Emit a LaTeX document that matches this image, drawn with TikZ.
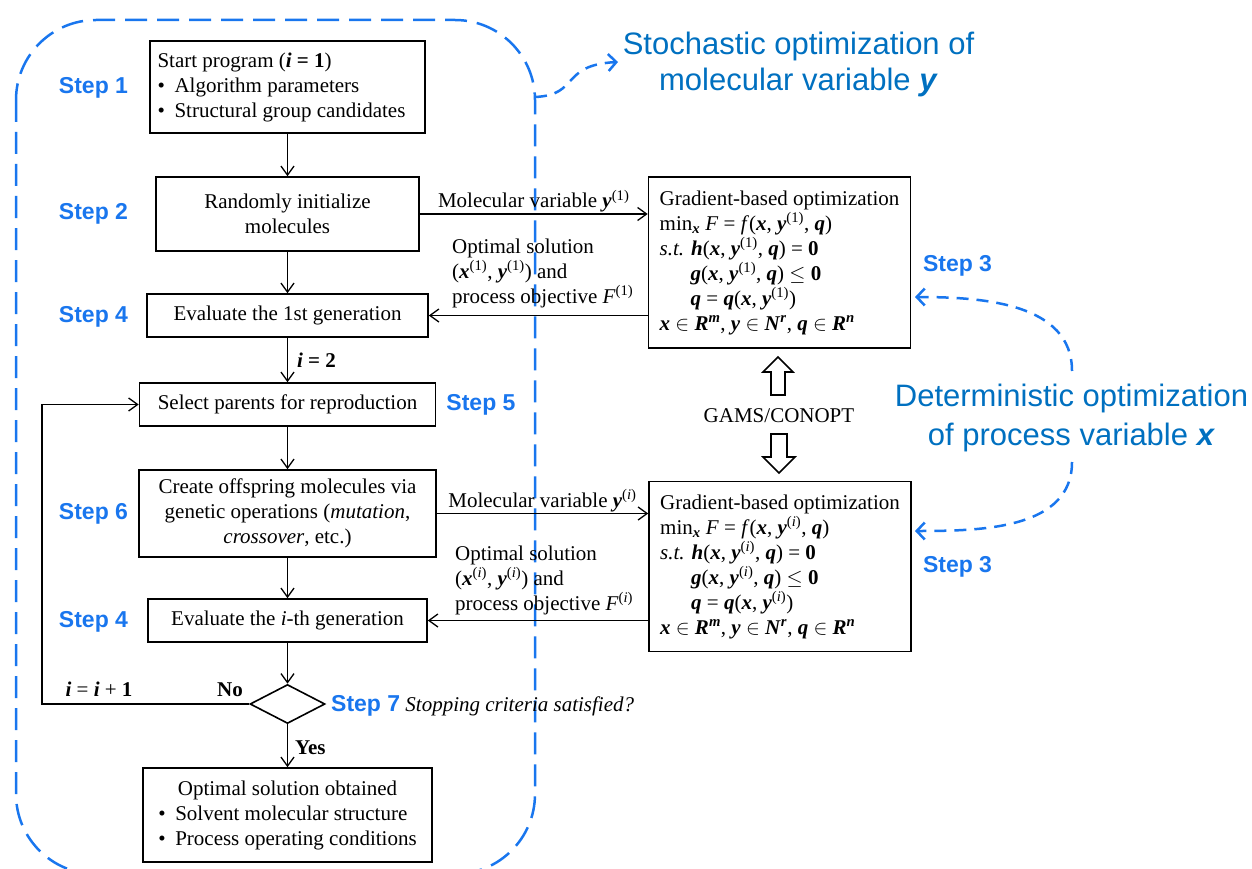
\documentclass[tikz,border=0pt]{standalone}
\usepackage{fontspec}
\setmainfont{Liberation Serif}
\setsansfont{Liberation Sans}
\usetikzlibrary{arrows.meta,shapes.geometric}
\definecolor{stepblue}{RGB}{25,118,238}
\definecolor{textblue}{RGB}{0,112,192}
\newcommand\bfit[1]{\textbf{\textit{#1}}}
\newcommand\mvx{\bfit{x}}
\newcommand\mvy{\bfit{y}}
\newcommand\mvq{\bfit{q}}
\newcommand\mvh{\bfit{h}}
\newcommand\mvg{\bfit{g}}
\newcommand\supone{\textsuperscript{(1)}}
\newcommand\supi{\textsuperscript{(\textit{i})}}
\newcommand\mainfs{\fontsize{21}{25}\selectfont}
\newcommand\stepfs{\fontsize{23}{27}\selectfont\sffamily\bfseries}
\newcommand\bul{\makebox[17pt][l]{•}}
\begin{document}
\begin{tikzpicture}[x=1pt,y=-1pt,
  box/.style={draw, line width=1.6pt, font=\mainfs, inner sep=0pt, align=center},
  arr/.style={line width=1.3pt, -{Straight Barb[length=9pt,width=13pt]}},
  steplabel/.style={font=\stepfs, text=stepblue, inner sep=0pt},
  lbl/.style={font=\mainfs, inner sep=1pt},
  bluearr/.style={draw=stepblue, line width=2.5pt, dash pattern=on 12pt off 8pt, -{Straight Barb[length=8pt,width=17pt]}},
  bigblue/.style={font=\fontsize{31}{37}\selectfont\sffamily, text=textblue, align=center, inner sep=0pt}
]
\useasboundingbox (0,0) rectangle (1252,869);

% dashed frame
\draw[stepblue, line width=2.5pt, dash pattern=on 22pt off 10pt, rounded corners=80pt] (16,20) rectangle (535,874);

% left column boxes
\node[box, minimum width=275pt, minimum height=92pt, align=left] (b1) at (287.5,87)
  {Start program (\bfit{i} \textbf{= 1})\\\bul Algorithm parameters\\\bul Structural group candidates\rule{12pt}{0pt}};
\node[box, minimum width=263pt, minimum height=74pt] (b2) at (287.5,214) {Randomly initialize\\molecules};
\node[box, minimum width=281pt, minimum height=43pt] (b4) at (287.5,315.5) {Evaluate the 1st generation};
\node[box, minimum width=296pt, minimum height=43pt] (b5) at (287.5,404.5) {Select parents for reproduction};
\node[box, minimum width=297pt, minimum height=87pt] (b6) at (287.5,513.5)
  {Create offspring molecules via\\genetic operations (\textit{mutation},\\\textit{crossover}, etc.)};
\node[box, minimum width=279pt, minimum height=43pt] (b7) at (287.5,620.5) {Evaluate the \textit{i}-th generation};
\node[draw, line width=1.6pt, diamond, aspect=1.92, minimum width=75pt, minimum height=39pt, inner sep=0pt] (dia) at (287.5,704) {};
\node[box, minimum width=289pt, minimum height=94pt] (b8) at (287.5,815)
  {\begin{tabular}{@{}l@{}}\multicolumn{1}{@{}c@{}}{Optimal solution obtained}\\\bul Solvent molecular structure\\\bul Process operating conditions\end{tabular}};

% right boxes
\node[box, minimum width=262pt, minimum height=171pt, align=left] (opt1) at (779.5,262.5)
  {Gradient-based optimization\\
   min\textsubscript{\mvx} \textit{F} = \textit{f}(\mvx, \mvy\supone, \mvq)\\
   \textit{s.t.} \mvh(\mvx, \mvy\supone, \mvq) = \textbf{0}\\
   \hspace*{31pt}\mvg(\mvx, \mvy\supone, \mvq) $\leq$ \textbf{0}\\
   \hspace*{31pt}\mvq{} = \mvq(\mvx, \mvy\supone)\\
   \mvx{} $\in$ \bfit{R}\textsuperscript{\bfit{m}}, \mvy{} $\in$ \bfit{N}\textsuperscript{\bfit{r}}, \mvq{} $\in$ \bfit{R}\textsuperscript{\bfit{n}}};
\node[box, minimum width=262pt, minimum height=170pt, align=left] (opt2) at (780,566.5)
  {Gradient-based optimization\\
   min\textsubscript{\mvx} \textit{F} = \textit{f}(\mvx, \mvy\supi, \mvq)\\
   \textit{s.t.} \mvh(\mvx, \mvy\supi, \mvq) = \textbf{0}\\
   \hspace*{31pt}\mvg(\mvx, \mvy\supi, \mvq) $\leq$ \textbf{0}\\
   \hspace*{31pt}\mvq{} = \mvq(\mvx, \mvy\supi)\\
   \mvx{} $\in$ \bfit{R}\textsuperscript{\bfit{m}}, \mvy{} $\in$ \bfit{N}\textsuperscript{\bfit{r}}, \mvq{} $\in$ \bfit{R}\textsuperscript{\bfit{n}}};

% vertical flow
\draw[arr] (b1) -- (b2);
\draw[arr] (b2) -- (b4);
\draw[arr] (b4) -- node[lbl, right, xshift=8pt] {\bfit{i} \textbf{= 2}} (b5);
\draw[arr] (b5) -- (b6);
\draw[arr] (b6) -- (b7);
\draw[arr] (b7) -- (dia);
\draw[arr] (dia) -- node[lbl, right, xshift=6pt, yshift=-2pt] {\textbf{Yes}} (b8);
\coordinate (loopx) at (42,0);
\draw[arr] (dia.west) -- (dia.west -| loopx) |- (b5.west);
\node[lbl] (inc) at (99,689) {\bfit{i} = \bfit{i} + \textbf{1}};
\node[lbl] (no) at (230,690) {\textbf{No}};

% horizontal exchanges
\draw[arr] (b2.east) -- node[lbl, above] {Molecular variable \mvy\supone} (b2.east -| opt1.west);
\draw[arr] (opt1.west |- b4) -- (b4.east);
\node[lbl, anchor=west, align=left, inner sep=0pt] (sol1) at (452,273)
  {Optimal solution\\(\mvx\supone, \mvy\supone) and\\process objective \textit{F}\supone};
\draw[arr] (b6.east) -- node[lbl, above] {Molecular variable \mvy\supi} (b6.east -| opt2.west);
\draw[arr] (opt2.west |- b7) -- (b7.east);
\node[lbl, anchor=west, align=left, inner sep=0pt] (sol2) at (455,580)
  {Optimal solution\\(\mvx\supi, \mvy\supi) and\\process objective \textit{F}\supi};

% GAMS
\node[lbl] (gams) at (779,416) {GAMS/CONOPT};
\draw[line width=1.6pt, fill=white] (771,395) -- (771,372) -- (763,372) -- (778,357) -- (793,372) -- (785,372) -- (785,395) -- cycle;
\draw[line width=1.6pt, fill=white] (771,434) -- (771,457) -- (763,457) -- (779,473) -- (795,457) -- (787,457) -- (787,434) -- cycle;

% step labels
\node[steplabel] (s1) at (93.5,88) {Step 1};
\node[steplabel] (s2) at (93.5,214) {Step 2};
\node[steplabel] (s4a) at (93.5,317) {Step 4};
\node[steplabel] (s5) at (481,405) {Step 5};
\node[steplabel] (s6) at (93.5,514) {Step 6};
\node[steplabel] (s4b) at (93.5,622) {Step 4};
\node[steplabel] (s3a) at (957.5,266) {Step 3};
\node[steplabel] (s3b) at (957.5,567) {Step 3};
\node[lbl, anchor=west, inner sep=0pt] (s7) at (331,706)
  {{\stepfs\textcolor{stepblue}{Step 7}} \textit{Stopping criteria satisfied?}};

% big blue captions
\node[bigblue, font=\fontsize{31}{36}\selectfont\sffamily] (stoch) at (798.5,64)
  {Stochastic optimization of\\molecular variable \bfit{y}};
\node[bigblue, font=\fontsize{31}{39}\selectfont\sffamily] (det) at (1071.5,417.5)
  {Deterministic optimization\\of process variable \bfit{x}};

% blue dashed arrows
\coordinate (fr) at (535,97);
\coordinate (st) at (618,62);
\draw[bluearr] (fr) .. controls (580,95) and (560,65) .. (st);
\coordinate (du) at (1072,371);
\coordinate (tu) at (915,297);
\draw[bluearr] (du) to[out=90,in=0] (tu);
\coordinate (dd) at (1072,462);
\coordinate (td) at (915,531);
\draw[bluearr] (dd) to[out=-90,in=0] (td);
\end{tikzpicture}
\end{document}
